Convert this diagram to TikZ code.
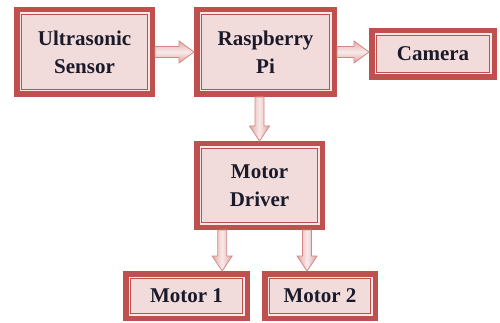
\documentclass[tikz,border=0pt]{standalone}
\usepackage{fontspec}
\setmainfont{Liberation Serif}
\usetikzlibrary{calc}
\definecolor{bred}{HTML}{C0504D}
\definecolor{bfill}{HTML}{F2DCDB}
\definecolor{bstripe}{HTML}{F8E8E8}
\definecolor{aedge}{HTML}{D38886}
\definecolor{afill}{HTML}{E4AAA9}
\definecolor{txt}{HTML}{1A1A2A}
\newcommand\harrow[2]{%
  \path[fatarrH] (#1) ++(0,-5.5) -- ($(#2)+(-15,-5.5)$) -- ($(#2)+(-15,-11)$) -- (#2)
    -- ($(#2)+(-15,11)$) -- ($(#2)+(-15,5.5)$) -- ($(#1)+(0,5.5)$) -- cycle;}
\newcommand\varrow[2]{%
  \path[fatarrV] (#1) ++(-4.5,0) -- ($(#2)+(-4.5,-15)$) -- ($(#2)+(-10,-15)$) -- (#2)
    -- ($(#2)+(10,-15)$) -- ($(#2)+(4.5,-15)$) -- ($(#1)+(4.5,0)$) -- cycle;}
\begin{document}
\begin{tikzpicture}[x=1pt,y=-1pt,
  blk/.style={draw=bred, line width=5.5pt, fill=bfill, inner sep=0pt, align=center,
    font=\fontsize{21}{28}\selectfont\bfseries, text=txt,
    path picture={
      \draw[bstripe, line width=1.6pt] ([shift={(3.3,3.3)}]path picture bounding box.north west) rectangle ([shift={(-3.3,-3.3)}]path picture bounding box.south east);
      \draw[bred, line width=1.3pt] ([shift={(4.9,4.9)}]path picture bounding box.north west) rectangle ([shift={(-4.9,-4.9)}]path picture bounding box.south east);
    }},
  fatarrH/.style={draw=aedge, line width=0.8pt, top color=afill, bottom color=afill!90!bred, middle color=afill!25!white},
  fatarrV/.style={draw=aedge, line width=0.8pt, left color=afill, right color=afill!90!bred, middle color=afill!25!white},
]
\useasboundingbox (0,0) rectangle (500,323);
\node[blk, minimum width=135.5pt, minimum height=84.5pt] (us) at (84.5,52) {Ultrasonic\\Sensor};
\node[blk, minimum width=137.5pt, minimum height=84.5pt] (rp) at (265.5,52) {Raspberry\\Pi};
\node[blk, minimum width=122.5pt, minimum height=46.5pt] (cam) at (433,54) {Camera};
\node[blk, minimum width=125.5pt, minimum height=83.5pt] (md) at (259.5,185.5) {Motor\\Driver};
\node[blk, minimum width=121.5pt, minimum height=44.5pt] (m1) at (186.5,296) {Motor 1};
\node[blk, minimum width=110.5pt, minimum height=44.5pt] (m2) at (320,296) {Motor 2};
\coordinate (d1) at ($(md.south west)!0.215!(md.south east)$);
\coordinate (d2) at ($(md.south west)!0.863!(md.south east)$);
\harrow{us.east}{rp.west}
\harrow{rp.east}{rp.east -| cam.west}
\varrow{rp.south -| md.north}{md.north}
\varrow{d1}{d1 |- m1.north}
\varrow{d2}{d2 |- m2.north}
\end{tikzpicture}
\end{document}
